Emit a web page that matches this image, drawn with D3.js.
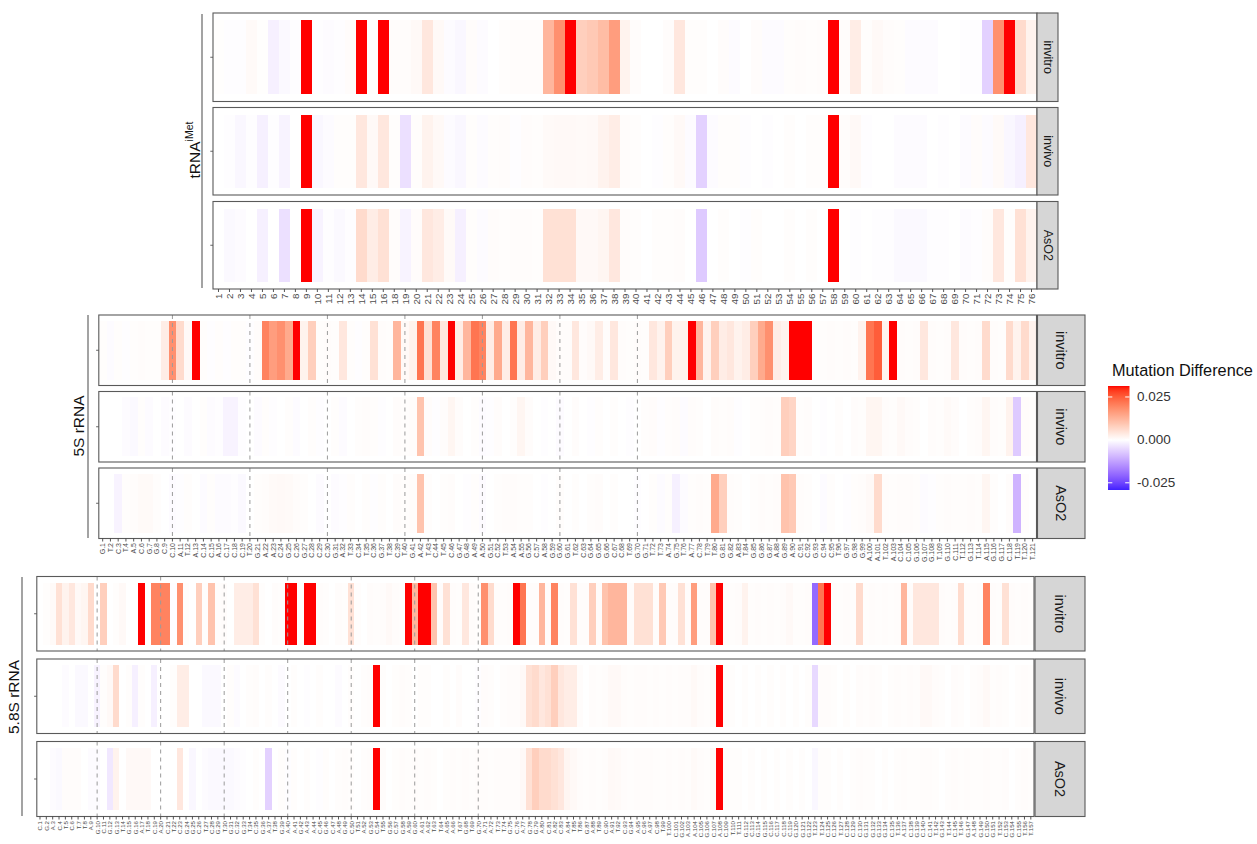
<!DOCTYPE html>
<html>
<head>
<meta charset="utf-8">
<script src="https://cdn.jsdelivr.net/npm/d3@7"></script>
<style>
  html, body { margin: 0; padding: 0; background: #fff; }
  svg { display: block; font-family: "Liberation Sans", Arial, sans-serif; }
</style>
</head>
<body>
<svg id="chart" width="1257" height="844"></svg>
<script>
// ---------- data: mutation-rate difference per nucleotide ----------
const conditions = ["invitro", "invivo", "AsO2"];

const tRNALabels = ["1","2","3","4","5","6","7","8","9","10","11","12","13","14","15","16",
  "18","19","20","21","22","23","24","25","26","27","28","29","30","31","32","33","34","35",
  "36","37","38","39","40","41","42","43","44","45","46","47","48","49","50","51","52","53",
  "54","55","56","57","58","59","60","61","62","63","64","65","66","67","68","69","70","71",
  "72","73","74","75","76"];

const tRNA_invitro = [
  0.0002, -0.0003, -0.0003, 0.0008, 0.0002, -0.002, -0.0008, -0.0003, 0.0314, -0.0003,
  -0.0005, -0.0003, 0.0005, 0.0314, 0.0003, 0.0314, 0.0005, 0.0005, 0.001, 0.004,
  0.001, -0.0005, -0.001, 0.0005, -0.0005, 0, 0.0003, 0.0005, 0.0005, 0.0005,
  0.012, 0.018, 0.0314, 0.008, 0.009, 0.011, 0.016, 0.002, 0.0005, 0,
  0, 0.0005, 0.004, 0.0003, 0.0003, 0, 0.0005, -0.0005, 0, 0.0005,
  -0.0005, -0.0005, 0.0003, 0.0005, 0.0003, 0.0005, 0.0314, 0.0005, 0.003, 0.0003,
  0.001, 0.0005, 0.0003, -0.0005, -0.0005, -0.0005, 0, 0, -0.0003, -0.0003,
  -0.006, 0.018, 0.0314, 0.006, 0.002];
const tRNA_invivo = [
  0, -0.0003, -0.001, -0.0003, -0.002, -0.0003, -0.0015, 0, 0.0314, -0.001,
  -0.0005, 0.0003, 0.0003, 0.004, 0.001, 0.004, 0.0003, -0.004, 0.0003, 0.002,
  0.001, -0.0005, -0.001, 0.0003, -0.0005, 0.0003, 0.0005, -0.0003, 0.0005, 0.0003,
  0.0008, 0.001, 0.001, 0.0008, 0.001, 0.002, 0.003, 0.0005, 0.0003, 0,
  -0.0003, 0.0003, 0.001, -0.0005, -0.006, -0.0005, 0.0003, 0.0003, -0.0003, 0,
  -0.0003, 0, 0.0003, 0, 0.0003, 0.0003, 0.0314, 0.0005, 0.001, -0.0003,
  0, 0, -0.0005, -0.0005, -0.0005, 0, -0.0003, 0, -0.0005, 0.0005,
  -0.0005, 0.0008, -0.001, -0.002, 0.004];
const tRNA_AsO2 = [
  0, -0.0008, -0.0005, 0, -0.002, 0, -0.004, 0, 0.0314, -0.0015,
  -0.0003, -0.0008, -0.0003, 0.006, 0.003, 0.005, 0.0005, -0.0015, 0.0005, 0.004,
  0.003, 0.0008, -0.002, 0.0003, -0.0005, 0.0005, 0.0003, 0.0005, 0.0005, 0.0003,
  0.005, 0.005, 0.005, 0.001, 0.001, 0.0015, 0.004, 0.0005, 0.0003, 0,
  0.0003, 0.0003, 0.0005, 0, -0.007, 0, 0.0003, 0, -0.0003, 0.0003,
  0, 0, 0.0003, 0, 0.0003, 0, 0.0314, 0, -0.0003, 0,
  -0.0003, -0.0003, -0.0008, -0.0008, -0.0008, -0.0003, -0.0003, 0, -0.0005, -0.0003,
  0.0005, 0.004, 0.0003, 0.005, 0.002];

const rRNA5SLabels = [
  "G.1","T.2","C.3","T.4","A.5","C.6","G.7","G.8","C.9","C.10",
  "A.11","T.12","A.13","C.14","C.15","A.16","C.17","C.18","C.19","T.20",
  "G.21","A.22","A.23","C.24","G.25","C.26","G.27","C.28","C.29","C.30",
  "G.31","A.32","T.33","C.34","T.35","C.36","G.37","T.38","C.39","T.40",
  "G.41","A.42","T.43","C.44","T.45","C.46","G.47","G.48","A.49","A.50",
  "G.51","C.52","T.53","A.54","A.55","G.56","C.57","A.58","G.59","G.60",
  "G.61","T.62","C.63","G.64","G.65","G.66","C.67","C.68","T.69","G.70",
  "G.71","T.72","T.73","A.74","G.75","T.76","A.77","C.78","T.79","T.80",
  "G.81","G.82","A.83","T.84","G.85","G.86","G.87","A.88","G.89","A.90",
  "C.91","C.92","G.93","C.94","C.95","T.96","G.97","G.98","G.99","A.100",
  "A.101","T.102","A.103","C.104","C.105","G.106","G.107","G.108","T.109","G.110",
  "C.111","T.112","G.113","T.114","A.115","G.116","G.117","C.118","T.119","T.120",
  "T.121"];

const rRNA5S_invitro = [
  0.0003, -0.0005, 0.0003, -0.0003, 0.0003, 0.0005, 0.0003, 0.0003, 0.003, 0.018,
  0.006, 0.001, 0.0314, 0.0003, -0.0003, 0.0003, -0.0003, 0.0003, 0.0003, -0.0003,
  0.0005, 0.02, 0.016, 0.018, 0.014, 0.0314, 0.002, 0.008, 0.0003, 0.0005,
  0.0003, 0.004, 0.0003, -0.0003, 0.0003, 0.005, 0.0005, 0.0003, 0.012, 0.001,
  0.002, 0.022, 0.005, 0.02, 0.004, 0.0314, 0.003, 0.012, 0.022, 0.02,
  0.003, 0.014, 0.003, 0.022, 0.003, 0.012, 0.003, 0.008, 0.001, 0.0005,
  0.0005, 0.004, 0.0005, 0.001, 0.003, 0.0005, 0.004, 0.0005, 0.0003, 0.0005,
  0.0003, 0.004, 0.002, 0.008, 0.002, 0.002, 0.0314, 0.012, 0.002, 0.008,
  0.003, 0.004, 0.002, 0.003, 0.008, 0.014, 0.018, 0.003, 0.002, 0.0314,
  0.0314, 0.0314, 0.0005, 0.0003, 0.0005, 0.0003, 0.0005, 0.0003, 0.002, 0.022,
  0.025, 0.002, 0.0314, 0.0005, 0.0003, 0.0005, 0.004, 0.0005, 0.0003, 0.0005,
  0.004, 0.0005, 0.0003, 0.0005, 0.006, 0.0005, 0.0003, 0.006, 0.002, 0.006,
  0.002];
const rRNA5S_invivo = [
  0, 0, 0, -0.0005, -0.0008, 0.0003, -0.0005, 0, -0.0005, -0.0003,
  0, -0.0005, 0, 0.0003, -0.0005, -0.0003, -0.0015, -0.0015, -0.0003, 0,
  -0.0005, 0.0003, -0.0003, 0, 0.0003, -0.0005, 0, 0.0003, -0.0003, 0,
  0.0003, -0.0005, 0, 0.0003, 0.0005, 0.0003, -0.0003, 0, 0.0005, 0.0003,
  0.0005, 0.01, 0.0005, -0.0003, 0.0005, 0.0015, 0.0005, 0, 0.0003, -0.0005,
  -0.0003, 0.0005, 0, 0.0003, 0.0015, 0.0005, 0, -0.0003, 0, -0.0005,
  0, 0.0005, 0, -0.0003, 0.0003, 0, 0.0003, 0, -0.0003, 0,
  0.0003, 0.0005, -0.0003, 0.0003, 0.0005, -0.0005, 0.0005, 0.0003, 0, 0.0005,
  0.0003, 0.0005, -0.0003, 0, 0.0003, 0.0003, 0.0005, 0.0003, 0.008, 0.007,
  0.0003, 0.0005, 0, -0.0003, 0, 0.0003, 0, 0.0005, 0.0003, 0.0015,
  0.0015, 0.0005, 0.0003, 0.001, 0.0005, 0.0003, 0, 0.0005, 0.0003, 0.0008,
  0.0005, 0, 0.0003, 0.0005, 0.0015, 0.0005, 0.0003, 0.002, -0.007, 0.0005,
  0.0003];
const rRNA5S_AsO2 = [
  0, 0, -0.0015, 0.0003, 0.0005, 0.0008, 0.0008, 0.0003, 0, -0.0005,
  -0.0003, 0.0003, 0, -0.0005, 0.0003, -0.0005, -0.0005, -0.0003, -0.0008, 0,
  0.0003, 0.0005, 0.0008, 0.001, 0.0008, 0.0005, 0.0003, 0, -0.0005, 0,
  -0.0005, -0.0003, 0.0003, 0, 0.0003, -0.0003, 0.0003, 0, 0.0005, 0.0003,
  0.0005, 0.01, 0.0003, 0, 0.0003, 0.0005, 0, -0.0003, 0.0003, -0.0005,
  0, 0.0003, 0.0005, 0.0005, 0.0003, 0.0003, 0, -0.0003, 0, 0.0003,
  0, 0.0003, 0, 0.0003, 0.0005, 0, 0.0003, 0, 0, -0.0003,
  0, 0.0003, -0.0005, 0.0003, -0.002, -0.0005, 0.0003, 0.0005, 0.0003, 0.014,
  0.008, 0.0005, 0.0003, 0, 0.0003, 0.0005, 0.0003, 0.0005, 0.01, 0.009,
  0.0005, 0.0003, 0, -0.0005, 0.0003, 0, -0.0003, 0.0003, 0.0005, 0.001,
  0.006, 0.0005, 0.0003, 0.0005, 0.0005, 0.0003, -0.0005, -0.0003, 0.0003, 0.0005,
  0.0003, 0.0003, 0.0005, 0.0003, 0.0015, 0.0003, 0, 0.0005, -0.01, 0.0003,
  0];

const rRNA58SLabels = [
  "C.1","G.2","A.3","C.4","T.5","C.6","T.7","T.8","A.9","G.10",
  "C.11","G.12","G.13","T.14","G.15","G.16","A.17","T.18","C.19","A.20",
  "C.21","T.22","C.23","G.24","G.25","C.26","T.27","C.28","G.29","T.30",
  "G.31","C.32","G.33","T.34","C.35","G.36","A.37","T.38","G.39","A.40",
  "A.41","G.42","A.43","A.44","C.45","G.46","C.47","A.48","G.49","C.50",
  "T.51","A.52","G.53","C.54","T.55","G.56","C.57","G.58","A.59","G.60",
  "A.61","A.62","T.63","T.64","A.65","A.66","T.67","G.68","T.69","G.70",
  "A.71","A.72","T.73","T.74","G.75","C.76","A.77","G.78","G.79","A.80",
  "C.81","A.82","C.83","A.84","T.85","T.86","G.87","A.88","T.89","C.90",
  "A.91","T.92","C.93","G.94","A.95","C.96","A.97","C.98","T.99","T.100",
  "C.101","G.102","A.103","A.104","C.105","G.106","C.107","A.108","C.109","T.110",
  "T.111","G.112","C.113","G.114","G.115","C.116","C.117","C.118","C.119","G.120",
  "G.121","G.122","T.123","T.124","C.125","C.126","T.127","C.128","C.129","C.130",
  "G.131","G.132","G.133","G.134","C.135","T.136","A.137","C.138","G.139","C.140",
  "C.141","T.142","G.143","T.144","C.145","T.146","G.147","A.148","G.149","C.150",
  "G.151","T.152","C.153","G.154","C.155","T.156","T.157"];

const rRNA58S_invitro = [
  0, 0.0003, 0.0008, 0.005, 0.002, 0.004, 0.001, 0.0015, 0.006, 0,
  0.008, 0, 0.0003, 0.001, 0, 0, 0.0314, 0, 0.02, 0.02,
  0.02, -0.0003, 0.018, 0.0003, 0, 0.008, 0.0003, 0.01, 0.0003, 0.0005,
  0, 0.003, 0.003, 0.003, 0.005, 0.0003, 0, 0.0005, 0.0003, 0.0314,
  0.0314, 0.0005, 0.0314, 0.0314, 0.0005, 0.0003, 0, 0.0005, 0.0003, 0.005,
  0.0003, 0, 0.0005, 0.0003, 0.0005, 0.001, 0.0005, 0.0003, 0.0314, 0.012,
  0.0314, 0.0314, 0.01, 0.0005, 0.005, 0.0005, 0.0003, 0.004, 0.0005, 0.0003,
  0.018, 0.006, 0.0005, 0.0003, 0.0005, 0.0314, 0.022, 0.0005, 0.0005, 0.012,
  0.0005, 0.02, 0.0005, 0.0003, 0.005, 0.0005, 0.0005, 0.008, 0.0005, 0.01,
  0.012, 0.012, 0.012, 0.0005, 0.005, 0.005, 0.005, 0.0005, 0.009, 0.0005,
  0.0005, 0.005, 0.0005, 0.016, 0.0005, 0.0005, 0.01, 0.0314, 0.0005, 0.0003,
  0.0005, 0.002, 0.0003, 0.0005, 0.0003, 0.0005, 0.0003, 0.0005, 0.001, 0.0003,
  0.0003, 0.0005, -0.02, 0.022, 0.0314, 0.0005, 0.0003, 0.0005, 0.0003, 0.006,
  0.0003, 0.0005, 0.0003, 0.0005, 0.0003, 0.0005, 0.012, 0.0005, 0.004, 0.004,
  0.004, 0.004, 0.0005, 0.0003, 0.0005, 0.006, 0.0005, 0.0003, 0.0005, 0.02,
  0.0005, 0.0003, 0.005, 0.0005, 0.0003, 0.0005, 0.0003];
const rRNA58S_invivo = [
  0, 0, 0, 0, -0.0005, 0, -0.0008, -0.0008, 0, -0.0015,
  0.0003, 0.001, 0.006, 0, 0.0003, -0.002, 0.0003, 0, -0.002, 0,
  0, 0.0003, 0.003, 0.003, 0, 0, -0.0008, -0.0008, -0.0008, 0,
  0.0003, -0.0005, 0, 0.0003, 0.0005, 0, 0.0003, 0, -0.0005, 0,
  0.0003, 0, -0.0003, 0, 0.0003, 0, 0, -0.0005, 0, 0.0003,
  0, 0.0003, 0.0005, 0.0314, 0.0003, 0, 0.0003, 0.0005, 0.0003, 0,
  0.0003, 0.0003, 0, 0, 0.0003, 0, 0.0005, 0, 0, -0.0003,
  0.0005, 0.0003, 0, 0.0003, 0.0005, 0.0005, 0.001, 0.005, 0.006, 0.004,
  0.005, 0.008, 0.004, 0.003, 0.003, 0.0005, 0, 0.0005, 0.0003, 0.0005,
  0.001, 0.001, 0.0005, 0.0003, 0.0005, 0.0005, 0.0003, 0.0005, 0.0003, 0.0005,
  0.0003, 0.0005, 0.0005, 0.001, 0.0005, 0.0003, 0.001, 0.0314, 0.0005, 0.0003,
  0, 0.0003, 0, 0.0003, 0, 0.0003, 0, 0.0003, 0, 0.0003,
  0, 0.0003, -0.005, 0.0005, 0.0005, 0.0003, 0, 0.0003, 0, 0.0005,
  0.0003, 0.0005, 0.0003, 0, 0.0003, 0.0005, 0.0003, 0.0005, 0.0003, 0.001,
  0.001, 0.0005, 0.0003, 0, 0.0005, 0.0003, 0, 0.0003, 0.0005, 0.001,
  0.0003, 0.0005, 0.0003, 0, 0.0003, 0.0005, 0.0003];
const rRNA58S_AsO2 = [
  0, 0, -0.0005, -0.0008, 0.0005, 0.0005, 0.0005, 0, -0.0005, -0.0005,
  0, -0.003, 0.002, 0, 0.001, 0.001, 0.001, 0.001, 0, 0,
  0, 0, 0.004, 0, -0.001, 0, -0.0005, -0.0008, -0.0008, -0.0008,
  -0.0008, -0.0005, -0.0003, 0, 0.0003, 0, -0.006, 0, 0.0003, -0.0003,
  0.0003, 0, 0.0003, 0, -0.0003, 0.0003, 0, 0.0003, 0.0005, 0.0003,
  0, 0.0003, 0.0005, 0.0314, 0.0005, 0, 0.0003, 0.0005, 0.0003, 0.0005,
  0.0003, 0.0005, 0.0003, 0, 0.0003, 0.0005, 0.0003, 0.0005, 0.0003, 0.0005,
  0.0005, 0.0003, 0.0005, 0.0005, 0.0005, 0.0005, 0.001, 0.005, 0.008, 0.006,
  0.006, 0.005, 0.004, 0.0015, 0.001, 0.0005, 0.0003, 0.0005, 0.0003, 0.0005,
  0.001, 0.0008, 0.0005, 0.0003, 0.0005, 0.0005, 0.0005, 0.0003, 0.0003, 0.0005,
  0.0003, 0.0005, 0.0003, 0.0008, 0.0005, 0.0003, 0.001, 0.0314, 0.0005, 0.0003,
  0.0003, 0, 0.0003, 0, 0.0003, 0, 0.0003, 0, 0.0003, 0,
  0.0003, 0, -0.001, 0.0003, 0.0003, 0, 0.0003, 0, 0.0003, 0.0005,
  0.0003, 0.0003, 0, 0.0003, 0, 0.0003, 0.0005, 0.0003, 0.0003, 0.0005,
  0.0005, 0.0003, 0, 0.0003, 0.0005, 0.0003, 0.0005, 0.0003, 0.0003, 0.0005,
  0.0003, 0.0003, 0.0005, 0, 0.0003, 0.0005, 0.0003];

// reference positions marked with dashed guides in the rRNA panels
const guidePositions = [10, 20, 30, 40, 50, 60, 70];

// colour scale limits and legend ticks
const fillLimits = [-0.0292, 0.0314];
const legendTicks = [-0.025, 0, 0.025];
const legendTickLabels = ["-0.025", "0.000", "0.025"];

// ---------- colour: blue - white - red, centred on zero ----------
const half = Math.max(Math.abs(fillLimits[0]), Math.abs(fillLimits[1]));
const lowRamp = d3.interpolateLab("#0000FF", "#FFFFFF");
const highRamp = d3.interpolateLab("#FFFFFF", "#FF0000");
function fillColor(v) {
  const t = Math.max(0, Math.min(1, 0.5 + v / (2 * half)));
  return t < 0.5 ? lowRamp(t * 2) : highRamp((t - 0.5) * 2);
}

const svg = d3.select("#chart");
svg.append("rect").attr("width", 1257).attr("height", 844).attr("fill", "#fff");

// ---------- one faceted heat-strip per RNA ----------
function drawBlock(cfg) {
  const g = svg.append("g");
  const x = d3.scaleBand().domain(cfg.labels).range([cfg.x0, cfg.x1]).padding(0);

  cfg.panels.forEach((py, i) => {
    const values = cfg.series[i];
    const y = d3.scaleBand().domain([conditions[i]]).range(py).paddingOuter(0.1).paddingInner(0);
    const pg = g.append("g");

    pg.selectAll("rect.tile")
      .data(cfg.labels.map((l, k) => ({ label: l, value: values[k] })))
      .join("rect")
      .attr("class", "tile")
      .attr("x", d => x(d.label))
      .attr("width", x.bandwidth())
      .attr("y", y(conditions[i]))
      .attr("height", y.bandwidth())
      .attr("fill", d => fillColor(d.value))
      .attr("shape-rendering", "crispEdges");

    if (cfg.guides) {
      pg.selectAll("line.guide")
        .data(guidePositions)
        .join("line")
        .attr("class", "guide")
        .attr("x1", p => x(cfg.labels[p - 1]) + x.bandwidth() / 2)
        .attr("x2", p => x(cfg.labels[p - 1]) + x.bandwidth() / 2)
        .attr("y1", py[0]).attr("y2", py[1])
        .attr("stroke", "#9a9a9a").attr("stroke-width", 1)
        .attr("stroke-dasharray", "4,4");
    }

    // panel border
    pg.append("rect")
      .attr("x", cfg.x0).attr("y", py[0])
      .attr("width", cfg.x1 - cfg.x0).attr("height", py[1] - py[0])
      .attr("fill", "none").attr("stroke", "#5a5a5a").attr("stroke-width", 1.1);

    // y tick (blank label)
    const yc = y(conditions[i]) + y.bandwidth() / 2;
    pg.append("line")
      .attr("x1", cfg.x0 - 2.7).attr("x2", cfg.x0).attr("y1", yc).attr("y2", yc)
      .attr("stroke", "#555").attr("stroke-width", 0.9);

    // facet strip on the right
    pg.append("rect")
      .attr("x", cfg.strip[0]).attr("y", py[0])
      .attr("width", cfg.strip[1] - cfg.strip[0]).attr("height", py[1] - py[0])
      .attr("fill", "#d6d6d6").attr("stroke", "#5a5a5a").attr("stroke-width", 1.1);
    const sx = (cfg.strip[0] + cfg.strip[1]) / 2;
    const sy = (py[0] + py[1]) / 2;
    pg.append("text")
      .attr("transform", `translate(${sx},${sy}) rotate(90)`)
      .attr("text-anchor", "middle").attr("dominant-baseline", "central")
      .attr("font-size", cfg.stripFont).attr("fill", "#1a1a1a")
      .text(conditions[i]);
  });

  // bottom x axis with rotated labels
  const bottom = cfg.panels[cfg.panels.length - 1][1];
  const axis = d3.axisBottom(x).tickSize(cfg.tickLen).tickSizeOuter(0).tickPadding(1.5);
  const ax = g.append("g").attr("transform", `translate(0,${bottom})`).call(axis);
  ax.select(".domain").remove();
  ax.selectAll(".tick line").attr("stroke", "#444").attr("stroke-width", 0.9);
  ax.selectAll(".tick text")
    .attr("font-size", cfg.tickFont)
    .attr("font-family", "'Liberation Sans', Arial, sans-serif")
    .attr("fill", "#4d4d4d")
    .attr("text-anchor", "end")
    .attr("dominant-baseline", "central")
    .attr("dy", null)
    .attr("y", 0).attr("x", 0)
    .attr("transform", `translate(0,${cfg.tickLen + 1.5}) rotate(-90)`);

  // vertical rule and axis title on the left
  g.append("line")
    .attr("x1", cfg.rule.x).attr("x2", cfg.rule.x)
    .attr("y1", cfg.rule.y0).attr("y2", cfg.rule.y1)
    .attr("stroke", "#8c8c8c").attr("stroke-width", 1.6);

  const title = g.append("text")
    .attr("transform", `translate(${cfg.title.x},${cfg.title.y}) rotate(-90)`)
    .attr("text-anchor", "middle")
    .attr("font-size", 15.5).attr("fill", "#111");
  title.append("tspan").text(cfg.title.text);
  if (cfg.title.sup) {
    title.append("tspan").attr("font-size", 10.5).attr("dy", -7).text(cfg.title.sup);
  }
}

drawBlock({
  labels: tRNALabels,
  series: [tRNA_invitro, tRNA_invivo, tRNA_AsO2],
  x0: 213, x1: 1037,
  panels: [[13, 101.5], [107.5, 195], [201.5, 289]],
  strip: [1037, 1058], stripFont: 12.5,
  tickLen: 3, tickFont: 9.8,
  guides: false,
  rule: { x: 202, y0: 14, y1: 288 },
  title: { x: 200, y: 150, text: "tRNA", sup: "iMet" }
});

drawBlock({
  labels: rRNA5SLabels,
  series: [rRNA5S_invitro, rRNA5S_invivo, rRNA5S_AsO2],
  x0: 98.8, x1: 1036.5,
  panels: [[315, 385.5], [391.5, 462], [468, 538.5]],
  strip: [1037.5, 1085], stripFont: 14.5,
  tickLen: 3, tickFont: 7,
  guides: true,
  rule: { x: 88, y0: 315, y1: 538 },
  title: { x: 84, y: 426, text: "5S rRNA" }
});

drawBlock({
  labels: rRNA58SLabels,
  series: [rRNA58S_invitro, rRNA58S_invivo, rRNA58S_AsO2],
  x0: 36.8, x1: 1034,
  panels: [[576.5, 651], [659, 733.5], [741.5, 816.5]],
  strip: [1035, 1085], stripFont: 14.5,
  tickLen: 3, tickFont: 6.1,
  guides: true,
  rule: { x: 22, y0: 577, y1: 816 },
  title: { x: 19, y: 697, text: "5.8S rRNA" }
});

// ---------- colour bar legend ----------
const legend = svg.append("g");
legend.append("text").attr("x", 1112).attr("y", 376)
  .attr("font-size", 16.3).attr("fill", "#111").text("Mutation Difference");

const barX = 1108, barW = 21.5, barTop = 386, barBottom = 490;
const ly = d3.scaleLinear().domain(fillLimits).range([barBottom, barTop]);
const grad = svg.append("defs").append("linearGradient")
  .attr("id", "mdGrad").attr("x1", 0).attr("y1", 1).attr("x2", 0).attr("y2", 0);
d3.range(0, 1.0001, 0.02).forEach(f => {
  const v = fillLimits[0] + f * (fillLimits[1] - fillLimits[0]);
  grad.append("stop").attr("offset", f).attr("stop-color", fillColor(v));
});
legend.append("rect").attr("x", barX).attr("y", barTop)
  .attr("width", barW).attr("height", barBottom - barTop).attr("fill", "url(#mdGrad)");
legend.selectAll("line.lt").data(legendTicks).join("line")
  .attr("x1", barX).attr("x2", barX + 4.3)
  .attr("y1", d => ly(d)).attr("y2", d => ly(d))
  .attr("stroke", "#fff").attr("stroke-width", 1);
legend.selectAll("line.rt").data(legendTicks).join("line")
  .attr("x1", barX + barW - 4.3).attr("x2", barX + barW)
  .attr("y1", d => ly(d)).attr("y2", d => ly(d))
  .attr("stroke", "#fff").attr("stroke-width", 1);
legend.selectAll("text.lab").data(legendTicks).join("text")
  .attr("x", barX + barW + 7.5).attr("y", d => ly(d))
  .attr("dominant-baseline", "central")
  .attr("font-size", 13.5).attr("fill", "#333")
  .text((d, i) => legendTickLabels[i]);
</script>
</body>
</html>
